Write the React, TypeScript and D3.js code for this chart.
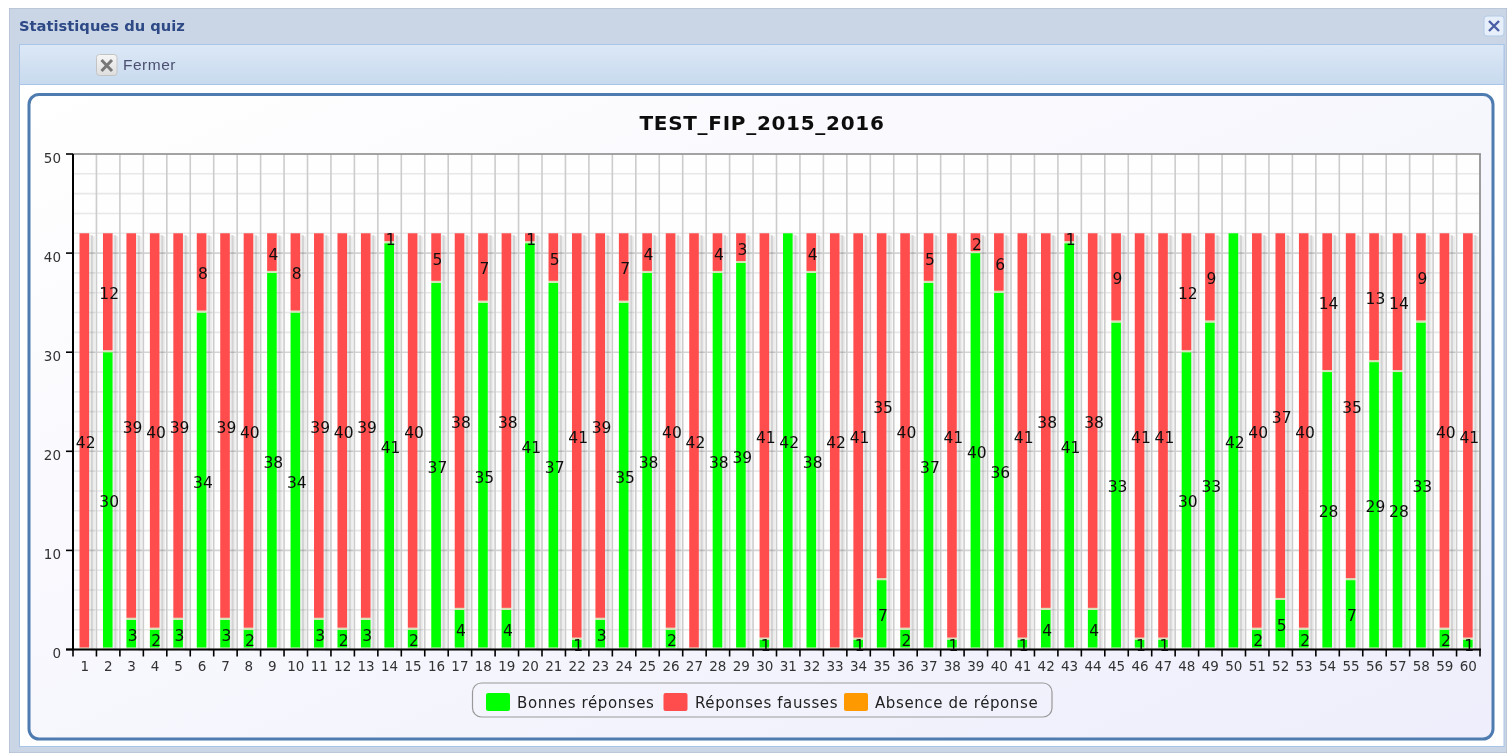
import React from "react";
import * as d3 from "d3";

const questions = d3.range(1, 61).map(String);
const goodAnswers = [0,30,3,2,3,34,3,2,38,34,3,2,3,41,2,37,4,35,4,41,37,1,3,35,38,2,0,38,39,1,42,38,0,1,7,2,37,1,40,36,1,4,41,4,33,1,1,30,33,42,2,5,2,28,7,29,28,33,2,1];
const wrongAnswers = [42,12,39,40,39,8,39,40,4,8,39,40,39,1,40,5,38,7,38,1,5,41,39,7,4,40,42,4,3,41,0,4,42,41,35,40,5,41,2,6,41,38,1,38,9,41,41,12,9,0,40,37,40,14,35,13,14,9,40,41];
const noAnswers = questions.map(() => 0);
const yTicks = [0, 10, 20, 30, 40, 50];
const gridTicks = d3.range(0, 51, 2);
const seriesKeys = ["good", "wrong", "none"];
const seriesColors: Record<string, string> = { good: "#00ff00", wrong: "#ff4d4d", none: "#ff9900" };
const legendItems = [
  { label: "Bonnes réponses", color: "#00ff00", swatch: 486, text: 517 },
  { label: "Réponses fausses", color: "#ff4d4d", swatch: 663.5, text: 695 },
  { label: "Absence de réponse", color: "#ff9900", swatch: 844, text: 875 },
];

const FONT = "'DejaVu Sans', sans-serif";
const rows = questions.map((q, i) => ({ q, good: goodAnswers[i], wrong: wrongAnswers[i], none: noAnswers[i] }));

export default function App() {
  const x = d3.scaleBand<string>().domain(questions).range([73, 1480]).padding(0);
  const y = d3.scaleLinear().domain([0, 50]).range([649.5, 154]);
  const stack = d3.stack<any>().keys(seriesKeys)(rows);
  const barW = 9.6;
  const ticksX = [...questions.map((q) => x(q)!), 1480];

  return (
    <svg width={1507} height={753} style={{ position: "absolute", left: 0, top: 0, display: "block" }}>
      <defs>
        <linearGradient id="box" x1="0" y1="0" x2="1" y2="1">
          <stop offset="0" stopColor="#ffffff" />
          <stop offset="1" stopColor="#eeeefc" />
        </linearGradient>
        <linearGradient id="tool" x1="0" y1="0" x2="0" y2="1">
          <stop offset="0" stopColor="#dce8f6" />
          <stop offset="1" stopColor="#c8daee" />
        </linearGradient>
        <linearGradient id="btn" x1="0" y1="0" x2="0" y2="1">
          <stop offset="0" stopColor="#f6f6f6" />
          <stop offset="1" stopColor="#dedede" />
        </linearGradient>
        <filter id="soft" x="0" y="0" width="100%" height="100%">
          <feGaussianBlur stdDeviation="0.55" />
        </filter>
      </defs>
      <rect width={1507} height={753} fill="#ffffff" />
      <g filter="url(#soft)">
        {/* window */}
        <rect x={9} y={8} width={1498} height={745} fill="#cad6e6" stroke="#a9b8cb" />
        <rect x={19.5} y={44.5} width={1484.5} height={702} fill="#ffffff" stroke="#a8c4e6" />
        <rect x={19.5} y={44.5} width={1484.5} height={40} fill="url(#tool)" stroke="#a8c4e6" />
        <text x={19} y={31} fontFamily={FONT} fontSize={14.7} fontWeight="bold" fill="#2d4a86">Statistiques du quiz</text>
        <rect x={96.5} y={54.5} width={20.5} height={21} rx={3} fill="url(#btn)" stroke="#c4c4c4" />
        <path d="M101.5 60 L112 71 M112 60 L101.5 71" stroke="#777" strokeWidth={3} />
        <text x={123} y={70} fontFamily="'Liberation Sans', sans-serif" fontSize={15.5} letterSpacing={0.5} fill="#4b5070">Fermer</text>
        <rect x={1484} y={16} width={20} height={20} rx={3} fill="#e6effa" stroke="#b4cbe8" />
        <path d="M1489 21 L1499 31 M1499 21 L1489 31" stroke="#4a5ea6" strokeWidth={2.4} />

        {/* chart box */}
        <rect x={29} y={94.5} width={1464} height={644.5} rx={10} fill="url(#box)" stroke="#4f7cb0" strokeWidth={3} />
        <text x={762} y={130} textAnchor="middle" fontFamily={FONT} fontSize={20} letterSpacing={0.7} fontWeight="bold" fill="#111">TEST_FIP_2015_2016</text>

        {/* plot */}
        <rect x={73} y={154} width={1407} height={495.5} fill="#fefefe" />
        {gridTicks.map((t) => (
          <line key={t} x1={73} x2={1480} y1={y(t)} y2={y(t)} stroke={t % 10 === 0 ? "#d4d4d4" : "#e8e8e8"} strokeWidth={1.6} />
        ))}
        {ticksX.map((tx, i) => (
          <line key={i} x1={tx} x2={tx} y1={154} y2={649.5} stroke="#cccccc" strokeWidth={1.6} />
        ))}
        <line x1={73} x2={1481} y1={154} y2={154} stroke="#8f8f8f" strokeWidth={1.6} />
        <line x1={1480} x2={1480} y1={154} y2={649.5} stroke="#8f8f8f" strokeWidth={1.6} />

        {/* bars */}
        {stack.map((s) =>
          s.map((d, i) => {
            const q = questions[i];
            if (d[1] - d[0] <= 0) return null;
            const cx = x(q)! + x.bandwidth() / 2 - 0.4;
            const top = y(d[1]);
            const h = y(d[0]) - top + (d[0] > 0 ? 0 : -1);
            return (
              <g key={s.key + q}>
                <rect x={cx + barW / 2} y={top + 1.5} width={1.8} height={h} fill="#000" opacity={0.07} />
                <rect x={cx + barW / 2 + 1.8} y={top + 2} width={2} height={h} fill="#000" opacity={0.17} />
                <rect x={cx + barW / 2 + 3.8} y={top + 3} width={2} height={h} fill="#000" opacity={0.07} />
              </g>
            );
          })
        )}
        {stack.map((s) =>
          s.map((d, i) => {
            const q = questions[i];
            if (d[1] - d[0] <= 0) return null;
            const cx = x(q)! + x.bandwidth() / 2 - 0.4;
            const top = y(d[1]);
            const bottom = y(d[0]) - 2;
            return (
              <g key={s.key + q}>
                <rect x={cx - barW / 2} y={bottom} width={barW} height={2} fill="#d5e3b8" />
                <rect x={cx - barW / 2} y={top} width={barW} height={bottom - top} fill={seriesColors[s.key]} />
              </g>
            );
          })
        )}
        {stack.map((s) =>
          s.map((d, i) => {
            const v = d[1] - d[0];
            if (v <= 0) return null;
            const q = questions[i];
            return (
              <text key={s.key + q} x={x(q)! + x.bandwidth() / 2 + 1} y={y((d[0] + d[1]) / 2) + 6.5} textAnchor="middle" fontFamily={FONT} fontSize={15.5} fill="#111">{v}</text>
            );
          })
        )}

        {/* axes */}
        <line x1={73} x2={73} y1={154} y2={650.5} stroke="#000" strokeWidth={2} />
        <line x1={66} x2={1481} y1={649.5} y2={649.5} stroke="#000" strokeWidth={2} />
        {yTicks.map((t) => (
          <g key={t}>
            <line x1={66} x2={73} y1={y(t)} y2={y(t)} stroke="#000" strokeWidth={1.6} />
            <text x={61} y={y(t) + 8.5} textAnchor="end" fontFamily={FONT} fontSize={13.5} fill="#333">{t}</text>
          </g>
        ))}
        {ticksX.map((tx, i) => (
          <line key={i} x1={tx} x2={tx} y1={649.5} y2={656.5} stroke="#000" strokeWidth={1.6} />
        ))}
        {questions.map((q) => (
          <text key={q} x={x(q)! + x.bandwidth() / 2} y={670.5} textAnchor="middle" fontFamily={FONT} fontSize={13.5} fill="#333">{q}</text>
        ))}

        {/* legend */}
        <rect x={472.5} y={683} width={579.5} height={34} rx={9} fill="none" stroke="#999" strokeWidth={1.2} />
        {legendItems.map((l) => (
          <g key={l.label}>
            <rect x={l.swatch} y={693} width={24} height={18} rx={2} fill={l.color} />
            <text x={l.text} y={708} fontFamily={FONT} fontSize={15} letterSpacing={0.6} fill="#222">{l.label}</text>
          </g>
        ))}
      </g>
    </svg>
  );
}
